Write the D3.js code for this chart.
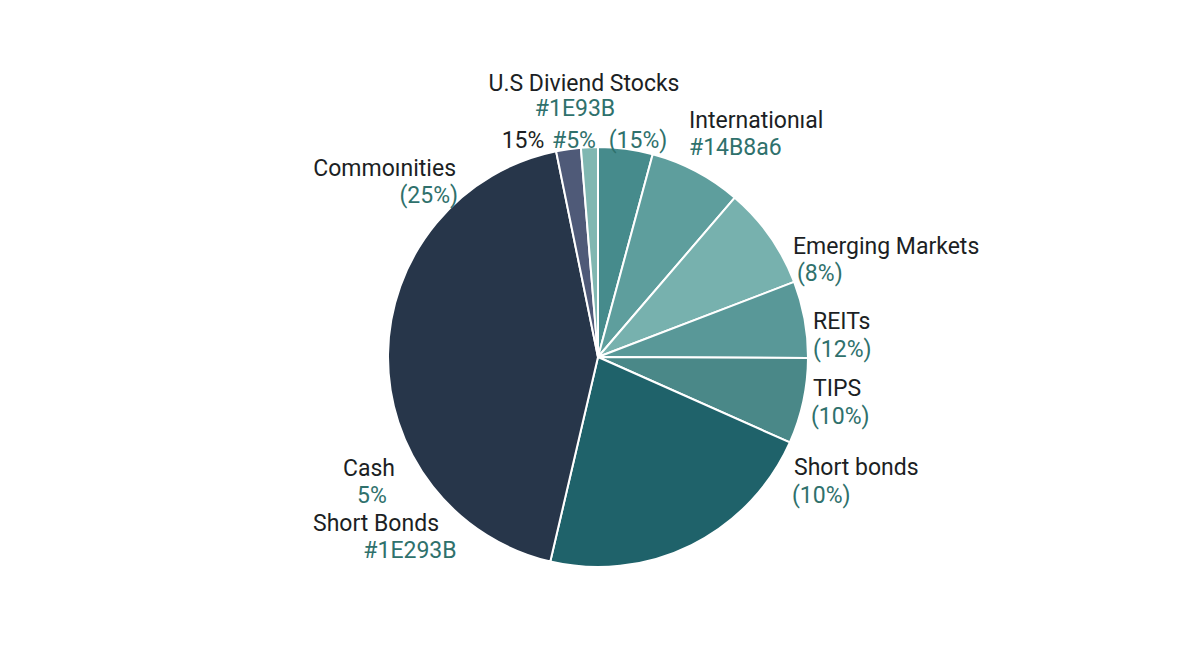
<!DOCTYPE html>
<html>
<head>
<meta charset="utf-8">
<script src="https://cdn.jsdelivr.net/npm/d3@7"></script>
<style>
  body { margin: 0; background: #ffffff; }
  svg { display: block; }
  text { font-family: Roboto, "Noto Sans", sans-serif; }
</style>
</head>
<body>
<div id="chart"></div>
<script>
// Slice data, clockwise from 12 o'clock
var slices = ["U.S Dividend Stocks", "International", "Emerging Markets", "REITs", "TIPS",
  "Short bonds", "Commodities", "Cash", "Short Bonds"];
var values = [4.2, 7.1, 7.9, 5.9, 6.6, 22.0, 43.2, 1.9, 1.3];
var colors = ["#468b8c", "#5e9e9d", "#77b1ae", "#599898", "#4a8888",
  "#1f626a", "#27364a", "#4f5a78", "#80b7b1"];

// Label texts (as printed on the chart)
var labelTexts = ["U.S Diviend Stocks", "#1E93B", "15%", "#5%", "(15%)",
  "Internationıal", "#14B8a6", "Commoınities", "(25%)",
  "Emerging Markets", "(8%)", "REITs", "(12%)", "TIPS", "(10%)",
  "Short bonds", "(10%)", "Cash", "5%", "Short Bonds", "#1E293B"];
var labelKinds = ["name", "code", "name", "code", "code",
  "name", "code", "name", "code",
  "name", "code", "name", "code", "name", "code",
  "name", "code", "name", "code", "name", "code"];

var svgWidth = 1200;
var svgHeight = 654;

var svg = d3.select("#chart")
  .append("svg")
  .attr("width", svgWidth)
  .attr("height", svgHeight);

// pie centre and radius
var cx = 598, cy = 357, radius = 210;

var pieGroup = svg.append("g")
  .attr("transform", `translate(${cx}, ${cy})`);

var color = d3.scaleOrdinal()
  .domain(slices)
  .range(colors);

var pie = d3.pie()
  .sort(null)
  .value(d => d.value);

var arc = d3.arc()
  .innerRadius(0)
  .outerRadius(radius);

var data = slices.map((s, i) => ({ name: s, value: values[i] }));

pieGroup.selectAll("path")
  .data(pie(data))
  .enter()
  .append("path")
  .attr("d", arc)
  .attr("fill", d => color(d.data.name))
  .attr("stroke", "#ffffff")
  .attr("stroke-width", 2)
  .attr("stroke-linejoin", "round");

// label layout: [x, y, anchor]
var labelLayout = [
  [584, 91, "middle"], [575, 116, "middle"], [523, 148, "middle"], [574, 148, "middle"], [638, 148, "middle"],
  [689, 128, "start"], [689, 155, "start"], [456, 176, "end"], [458, 203, "end"],
  [793, 254, "start"], [797, 281, "start"], [813, 329, "start"], [813, 357, "start"],
  [813, 396, "start"], [811, 424, "start"],
  [794, 475, "start"], [792, 503, "start"], [369, 476, "middle"], [372, 503, "middle"],
  [376, 531, "middle"], [410, 558, "middle"]
];

svg.append("g")
  .selectAll("text")
  .data(labelTexts)
  .enter()
  .append("text")
  .attr("x", (d, i) => labelLayout[i][0])
  .attr("y", (d, i) => labelLayout[i][1])
  .attr("text-anchor", (d, i) => labelLayout[i][2])
  .attr("font-size", 23)
  .attr("fill", (d, i) => labelKinds[i] == "name" ? "#1c1f24" : "#2f716c")
  .text(d => d);
</script>
</body>
</html>
